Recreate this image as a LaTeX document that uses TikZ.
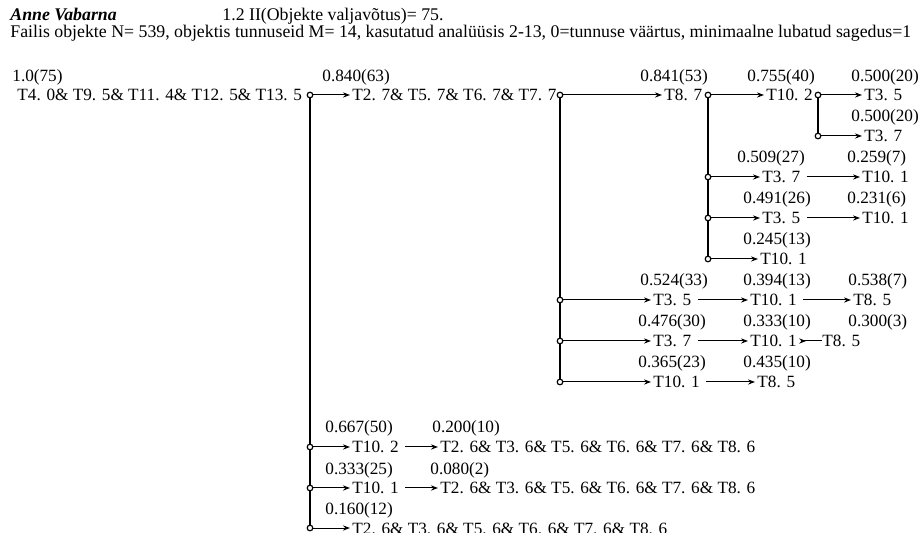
\documentclass[tikz,border=0pt]{standalone}
\usepackage{fontspec}
\setmainfont{Liberation Serif}
\usepackage{tikz}
\usetikzlibrary{arrows.meta}
\tikzstyle{txt}=[inner sep=0pt, anchor=west, text height=6pt, text depth=0pt,
font=\fontsize{8.6}{10}\selectfont]
\tikzstyle{lbl}=[txt]
\tikzstyle{head}=[txt, font=\fontsize{8.9}{10}\selectfont]
\tikzstyle{dot}=[circle, draw, fill=white, inner sep=0pt, minimum size=2.8pt, line width=0.6pt]
\tikzstyle{tree}=[line width=1pt]
\tikzstyle{arr}=[-{Stealth[length=3.5pt,width=2.6pt]}, line width=0.5pt, shorten >=1pt]
\tikzstyle{arrt}=[arr, shorten <=3pt]
\begin{document}
\begin{tikzpicture}[x=0.5pt,y=-0.5pt]
\useasboundingbox (0,0) rectangle (920,533);
% header
\node[head, font=\fontsize{8.9}{10}\selectfont\bfseries\itshape] (auth) at (10,15) {Anne Vabarna};
\node[head] (title) at (222,15) {1.2 II(Objekte valjavõtus)= 75.};
\node[head] (info) at (10,32) {Failis objekte N= 539, objektis tunnuseid M= 14, kasutatud analüüsis 2-13, 0=tunnuse väärtus, minimaalne lubatud sagedus=1};
% root
\node[lbl] (l0) at (12,76) {1.0(75)};
\node[txt] (r0) at (17,95) {T4. 0\& T9. 5\& T11. 4\& T12. 5\& T13. 5};
\node[dot] (c0) at (310,95) {};
\node[lbl] (l1) at (322,76) {0.840(63)};
\node[txt] (a1) at (352,95) {T2. 7\& T5. 7\& T6. 7\& T7. 7};
\node[dot] (c1) at (560,95) {};
% T8. 7 branch
\node[lbl] (l2) at (640,76) {0.841(53)};
\node[txt] (b1) at (664,95) {T8. 7};
\node[dot] (c2) at (708,95) {};
\node[lbl] (l3) at (747,76) {0.755(40)};
\node[txt] (d1) at (766,95) {T10. 2};
\node[dot] (c3) at (818,95) {};
\node[lbl] (l4) at (851,76) {0.500(20)};
\node[txt] (e1) at (864,95) {T3. 5};
\node[lbl] (l5) at (851,116) {0.500(20)};
\node[dot] (c3b) at (818,136) {};
\node[txt] (e2) at (864,136) {T3. 7};
\node[lbl] (l6) at (737,157) {0.509(27)};
\node[lbl] (l7) at (847,157) {0.259(7)};
\node[dot] (c2b) at (708,177) {};
\node[txt] (d2) at (762,177) {T3. 7};
\node[txt] (e3) at (862,177) {T10. 1};
\node[lbl] (l8) at (743,198) {0.491(26)};
\node[lbl] (l9) at (847,198) {0.231(6)};
\node[dot] (c2c) at (708,218) {};
\node[txt] (d3) at (762,218) {T3. 5};
\node[txt] (e4) at (862,218) {T10. 1};
\node[lbl] (l10) at (743,239) {0.245(13)};
\node[dot] (c2d) at (708,259) {};
\node[txt] (d4) at (760,259) {T10. 1};
% T3 / T10 branches
\node[lbl] (l11) at (640,280) {0.524(33)};
\node[lbl] (l12) at (743,280) {0.394(13)};
\node[lbl] (l13) at (848,280) {0.538(7)};
\node[dot] (c1b) at (560,300) {};
\node[txt] (b2) at (653,300) {T3. 5};
\node[txt] (d5) at (750,300) {T10. 1};
\node[txt] (e5) at (853,300) {T8. 5};
\node[lbl] (l14) at (638,321) {0.476(30)};
\node[lbl] (l15) at (743,321) {0.333(10)};
\node[lbl] (l16) at (848,321) {0.300(3)};
\node[dot] (c1c) at (560,341) {};
\node[txt] (b3) at (653,341) {T3. 7};
\node[txt] (d6) at (750,341) {T10. 1};
\node[txt] (e6) at (822,341) {T8. 5};
\node[lbl] (l17) at (638,362) {0.365(23)};
\node[lbl] (l18) at (743,362) {0.435(10)};
\node[dot] (c1d) at (560,382) {};
\node[txt] (b4) at (653,382) {T10. 1};
\node[txt] (d7) at (757,382) {T8. 5};
% lower block
\node[lbl] (l19) at (325,427) {0.667(50)};
\node[lbl] (l20) at (432,427) {0.200(10)};
\node[dot] (c0b) at (310,447) {};
\node[txt] (a2) at (352,447) {T10. 2};
\node[txt] (f1) at (440,447) {T2. 6\& T3. 6\& T5. 6\& T6. 6\& T7. 6\& T8. 6};
\node[lbl] (l21) at (325,468) {0.333(25)};
\node[lbl] (l22) at (430,468) {0.080(2)};
\node[dot] (c0c) at (310,488) {};
\node[txt] (a3) at (352,488) {T10. 1};
\node[txt] (f2) at (440,488) {T2. 6\& T3. 6\& T5. 6\& T6. 6\& T7. 6\& T8. 6};
\node[lbl] (l23) at (325,509) {0.160(12)};
\node[dot] (c0d) at (310,528) {};
\node[txt] (a4) at (352,528) {T2. 6\& T3. 6\& T5. 6\& T6. 6\& T7. 6\& T8. 6};
% verticals
\draw[tree] (c0) -- (c0b) -- (c0c) -- (c0d);
\draw[tree] (c1) -- (c1b) -- (c1c) -- (c1d);
\draw[tree] (c2) -- (c2b) -- (c2c) -- (c2d);
\draw[tree] (c3) -- (c3b);
% arrows
\draw[arr] (c0) -- (c0 -| a1.west);
\draw[arr] (c1) -- (c1 -| b1.west);
\draw[arr] (c2) -- (c2 -| d1.west);
\draw[arr] (c3) -- (c3 -| e1.west);
\draw[arr] (c3b) -- (c3b -| e2.west);
\draw[arr] (c2b) -- (c2b -| d2.west);
\draw[arrt] (d2.east) -- (e3.west);
\draw[arr] (c2c) -- (c2c -| d3.west);
\draw[arrt] (d3.east) -- (e4.west);
\draw[arr] (c2d) -- (c2d -| d4.west);
\draw[arr] (c1b) -- (c1b -| b2.west);
\draw[arrt] (b2.east) -- (d5.west);
\draw[arrt] (d5.east) -- (e5.west);
\draw[arr] (c1c) -- (c1c -| b3.west);
\draw[arrt] (b3.east) -- (d6.west);
\draw[{Stealth[reversed,length=3.5pt,width=2.6pt]}-, line width=0.5pt, shorten <=1pt] (d6.east) -- (e6.west);
\draw[arr] (c1d) -- (c1d -| b4.west);
\draw[arrt] (b4.east) -- (d7.west);
\draw[arr] (c0b) -- (c0b -| a2.west);
\draw[arrt] (a2.east) -- (f1.west);
\draw[arr] (c0c) -- (c0c -| a3.west);
\draw[arrt] (a3.east) -- (f2.west);
\draw[arr] (c0d) -- (c0d -| a4.west);
\end{tikzpicture}
\end{document}
